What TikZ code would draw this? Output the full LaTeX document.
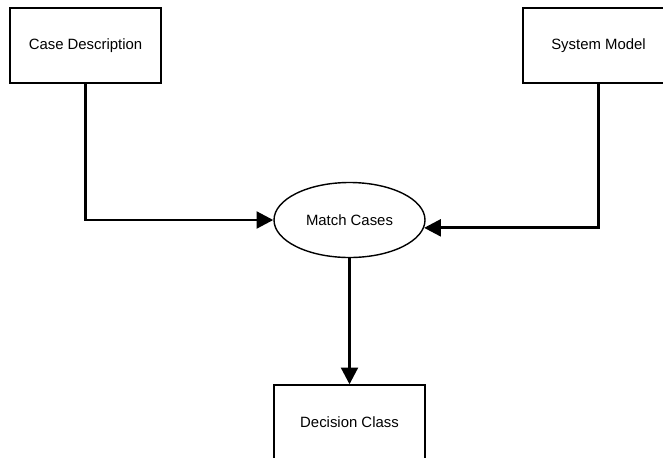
\documentclass[tikz,border=0pt]{standalone}
\usepackage{fontspec}
\setmainfont{Liberation Sans}
\usepackage{tikz}
\usetikzlibrary{shapes.geometric, arrows.meta, positioning}
\definecolor{mydark}{RGB}{0,0,0}
\tikzset{
  block/.style={rectangle, draw=mydark, fill=white,
    minimum width=3.775cm, minimum height=1.875cm,
    align=center, inner sep=0pt, line width=1pt,
    font=\fontsize{10.6}{12}\selectfont},
  process/.style={ellipse, draw=mydark, fill=white,
    minimum width=3.775cm, minimum height=1.875cm,
    inner sep=0pt, line width=1pt,
    font=\fontsize{10.6}{12}\selectfont},
  arrow/.style={-{Triangle[length=0.42cm, width=0.42cm]}, line width=2.1pt, color=mydark}
}
\begin{document}
\begin{tikzpicture}
  % Page frame
  \useasboundingbox (0,0) rectangle (16.575,-11.425);

  % Inputs
  \node[block] (casedesc) at (2.1375,-1.1375) {Case Description};
  \node[block] (sysmodel) at (14.9625,-1.1375) {System Model};

  % Matching step
  \node[process] (match) at (8.7375,-5.5) {Match Cases};

  % Output
  \node[block] (decision) at (8.7375,-10.5625) {Decision Class};

  % Connectors
  \draw[arrow] (casedesc.south) |- (match.west);
  \draw[arrow] (sysmodel.south) |- (match.-6);
  \draw[arrow] (match.south) -- (decision.north);
\end{tikzpicture}
\end{document}
